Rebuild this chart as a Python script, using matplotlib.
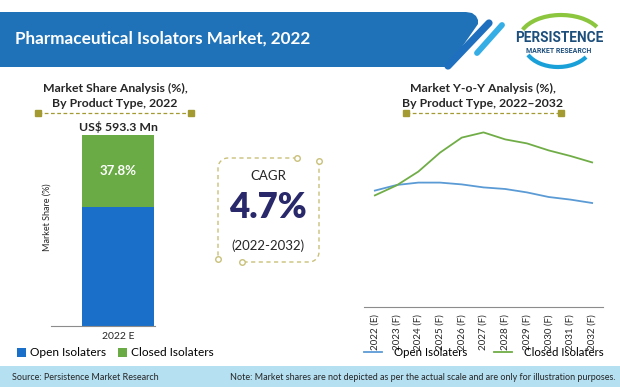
import numpy as np
import matplotlib as mpl
mpl.use('Agg')
import matplotlib.pyplot as plt
from matplotlib.patches import Polygon, Rectangle, Arc

#--------------------------------------------------------------------------------------------------------
# data

barCategory  = ['2022 E']
shareOpen    = [62.2]
shareClosed  = [37.8]
marketSize   = 'US$ 593.3 Mn'

vYear     = ['2022 (E)', '2023 (F)', '2024 (F)', '2025 (F)', '2026 (F)', '2027 (F)',
             '2028 (F)', '2029 (F)', '2030 (F)', '2031 (F)', '2032 (F)']
yoyOpen   = [5.82, 6.10, 6.22, 6.22, 6.13, 5.98, 5.90, 5.73, 5.50, 5.37, 5.20]
yoyClosed = [5.58, 6.08, 6.77, 7.72, 8.47, 8.73, 8.38, 8.18, 7.83, 7.55, 7.23]

cagr      = '4.7%'
cagrRange = '(2022-2032)'

#--------------------------------------------------------------------------------------------------------

W, H = 620, 387
plt.rcParams['font.family'] = ['Lato', 'DejaVu Sans']

colBlueBar  = '#1a6fc9'
colGreenBar = '#6aab45'
colBlueLn   = '#5b9bd5'
colGreenLn  = '#70ad47'
colOlive    = '#a39a32'
colText     = '#262626'

def rect(l, t, r, b): return [l/W, 1-b/H, (r-l)/W, (b-t)/H] # pixel box -> figure fraction

fig = plt.figure(figsize=(W/100, H/100), dpi=100)

# background layer in pixel coordinates
bg = fig.add_axes([0, 0, 1, 1])
bg.set_xlim(0, W); bg.set_ylim(H, 0); bg.axis('off')

# header banner
bannerPts = [(0, 12), (466, 12), (472, 13), (476, 16), (478, 20), (478, 24), (448, 67), (0, 67)]
bg.add_patch(Polygon(bannerPts, closed=True, facecolor='#1f72b8', edgecolor='none'))
bg.plot([448, 489], [66, 23], color='#1f6fbf', lw=5.2, solid_capstyle='round')
bg.plot([477, 502], [53, 25], color='#35aee6', lw=4.2, solid_capstyle='round')
bg.text(15, 39, 'Pharmaceutical Isolators Market, 2022', color='white', fontsize=12.3,
        fontweight='bold', va='center', ha='left')

# logo
bg.add_patch(Arc((561, 40), 84, 50, angle=0, theta1=195, theta2=340, color='#8cc63f', lw=3.0))
bg.add_patch(Arc((558, 44), 68, 46, angle=0, theta1=25, theta2=160, color='#1aa0d8', lw=3.0))
bg.text(559, 38, 'PERSISTENCE', color='#1d4f7c', fontsize=9.8, fontweight='bold', ha='center', va='center',
        family=['Roboto', 'DejaVu Sans'])
bg.text(559, 51, 'MARKET RESEARCH', color='#1d4f7c', fontsize=5.0, fontweight='bold', ha='center', va='center',
        family=['Roboto', 'DejaVu Sans'])

# footer band
bg.add_patch(Rectangle((0, 366), W, 21, facecolor='#b5e0f2', edgecolor='none'))
bg.text(12, 377, 'Source: Persistence Market Research', fontsize=6.5, color=colText, va='center', ha='left')
bg.text(615, 377, 'Note: Market shares are not depicted as per the actual scale and are only for illustration purposes.',
        fontsize=6.5, color=colText, va='center', ha='right')

# section titles with dashed rule
def sectionTitle(xc, x0, x1, txt):
    bg.text(xc, 96, txt, fontsize=8.8, fontweight='bold', color=colText, ha='center', va='center', linespacing=1.35)
    bg.plot([x0, x1], [113, 113], color=colOlive, lw=0.9, linestyle=(0, (3, 2)))
    bg.plot([x0, x1], [113, 113], linestyle='none', marker='s', markersize=5, color=colOlive)
sectionTitle(115, 38, 191, 'Market Share Analysis (%),\nBy Product Type, 2022')
sectionTitle(483, 406, 561, 'Market Y-o-Y Analysis (%),\nBy Product Type, 2022\u20132032')

# CAGR box
colBox = '#c9c07a'
t = np.linspace(0, np.pi/2, 12)
rr = 10
pathA = [(297, 158), (218+rr, 158)] + [(218+rr-rr*np.sin(a), 158+rr-rr*np.cos(a)) for a in t] + [(218, 259)]
pathB = [(319, 161), (319, 262-rr)] + [(319-rr+rr*np.cos(a), 262-rr+rr*np.sin(a)) for a in t] + [(242, 262)]
for p in (pathA, pathB):
    p = np.array(p)
    bg.plot(p[:, 0], p[:, 1], color=colBox, lw=1.0, linestyle=(0, (3, 2.5)))
bg.plot([297, 319, 218, 242], [158, 161, 259, 262], linestyle='none', marker='o', markersize=4,
        markerfacecolor='white', markeredgecolor=colBox, markeredgewidth=1.0)
bg.text(268, 176, 'CAGR', fontsize=9.5, color=colText, ha='center', va='center')
bg.text(268, 208, cagr, fontsize=25, fontweight='heavy', color='#28286a', ha='center', va='center')
bg.text(268, 246, cagrRange, fontsize=9.5, color=colText, ha='center', va='center')
bg.text(47, 217, 'Market Share (%)', rotation=90, fontsize=6.5, color=colText, ha='center', va='center')

#--------------------------------------------------------------------------------------------------------
# stacked bar

ax1 = fig.add_axes(rect(51, 135.3, 155, 326))
ax1.patch.set_alpha(0)
xb = np.arange(len(barCategory))
b1 = ax1.bar(xb, shareOpen, width=1.0, color=colBlueBar, label='Open Isolaters')
b2 = ax1.bar(xb, shareClosed, width=1.0, bottom=shareOpen, color=colGreenBar, label='Closed Isolaters')
ax1.set_xlim(-0.93, 0.514)
ax1.set_ylim(0, 100)
for s in ['top', 'right', 'left']: ax1.spines[s].set_visible(False)
ax1.spines['bottom'].set_color('#8c8c8c')
ax1.spines['bottom'].set_linewidth(0.8)
ax1.set_yticks([])
ax1.set_xticks(xb)
ax1.set_xticklabels(barCategory, fontsize=7.5, color=colText)
ax1.tick_params(axis='x', length=0, pad=4)
for i in range(len(xb)):
    ax1.text(xb[i], shareOpen[i] + shareClosed[i] / 2, '%.1f%%' % shareClosed[i], color='white',
             fontsize=9.5, fontweight='bold', ha='center', va='center')
    ax1.text(xb[i], 100 + 4.5, marketSize, color=colText, fontsize=8.8, fontweight='bold',
             ha='center', va='center', clip_on=False)
ax1.legend(handles=[b1, b2], loc='center left', bbox_to_anchor=(17/W, 1-353/H), bbox_transform=fig.transFigure,
           ncol=2, frameon=False, fontsize=8.6, handlelength=0.75, handleheight=0.75, handletextpad=0.35,
           columnspacing=1.0, borderpad=0, borderaxespad=0)

#--------------------------------------------------------------------------------------------------------
# Y-o-Y lines

ax2 = fig.add_axes(rect(364, 115, 603, 307))
ax2.patch.set_alpha(0)
xl = np.arange(len(vYear))
ax2.plot(xl, yoyOpen, color=colBlueLn, lw=1.3, label='Open Isolaters')
ax2.plot(xl, yoyClosed, color=colGreenLn, lw=1.3, label='Closed Isolaters')
ax2.set_xlim(-0.5, len(vYear) - 0.5)
ax2.set_ylim(0, 9.6)
for s in ['top', 'right', 'left']: ax2.spines[s].set_visible(False)
ax2.spines['bottom'].set_color('#8c8c8c')
ax2.spines['bottom'].set_linewidth(0.8)
ax2.set_yticks([])
ax2.set_xticks(xl)
ax2.set_xticklabels(vYear, rotation=90, fontsize=7, color=colText)
ax2.tick_params(axis='x', length=0, pad=5)
ax2.legend(loc='center left', bbox_to_anchor=(364/W, 1-353/H), bbox_transform=fig.transFigure,
           ncol=2, frameon=False, fontsize=8.3, handlelength=1.6, handletextpad=1.0,
           columnspacing=2.3, borderpad=0, borderaxespad=0)

plt.savefig('out.png', dpi=100)
